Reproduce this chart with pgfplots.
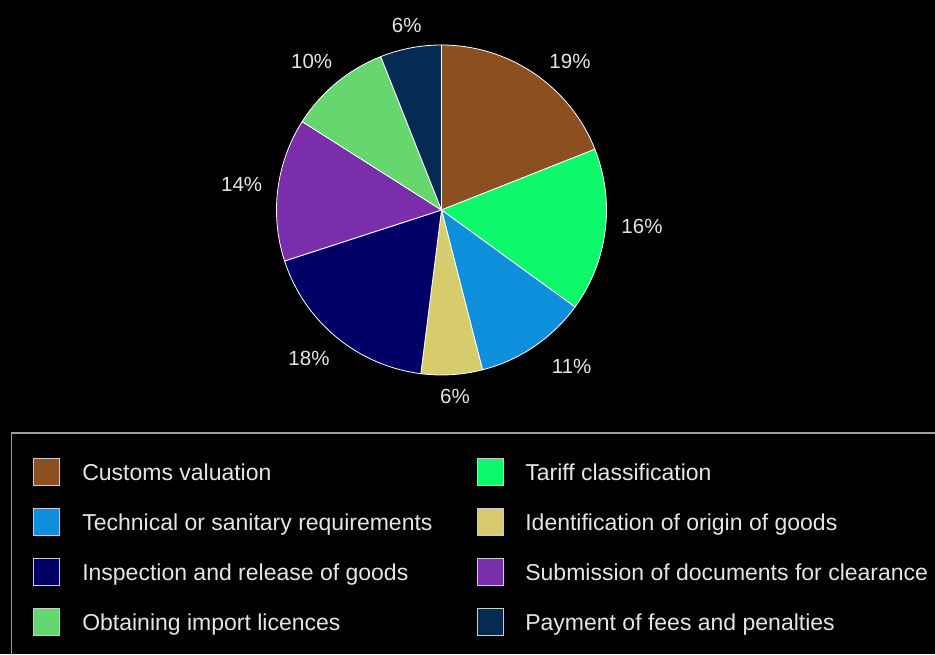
\documentclass[border=0pt]{standalone}
\usepackage{fontspec}
\setmainfont{Liberation Sans}
\usepackage{pgfplots}
\usepackage{pgfplotstable}
\pgfplotsset{compat=1.18}
\definecolor{c0}{HTML}{8C5020}
\definecolor{c1}{HTML}{0DF86A}
\definecolor{c2}{HTML}{0E8FDB}
\definecolor{c3}{HTML}{D6CC6C}
\definecolor{c4}{HTML}{000066}
\definecolor{c5}{HTML}{7A2EAA}
\definecolor{c6}{HTML}{66D66E}
\definecolor{c7}{HTML}{062B52}
\pgfplotstableread{
value lx ly
19 128.5 148.3
16 200.5 -16.5
11 130.2 -156.7
6 13.5 -186.7
18 -132.5 -148
14 -199.8 26
10 -129.8 149
6 -34.8 185
}\pietable
\newcommand\legfont{\fontsize{23}{27}\selectfont}
\newcommand\labfont{\fontsize{20.5}{24}\selectfont}
\begin{document}
\begin{tikzpicture}
\path[use as bounding box] (0,0) rectangle (935pt,654pt);
\fill[black] (0,0) rectangle (935pt,654pt);
\xdef\cum{90}
\foreach \i in {0,...,7}{%
  \pgfplotstablegetelem{\i}{value}\of\pietable
  \expandafter\xdef\csname pV\i\endcsname{\pgfplotsretval}%
  \pgfmathsetmacro\b{\cum-3.6*\pgfplotsretval}%
  \expandafter\xdef\csname pA\i\endcsname{\cum}%
  \expandafter\xdef\csname pB\i\endcsname{\b}%
  \xdef\cum{\b}%
  \pgfplotstablegetelem{\i}{lx}\of\pietable
  \expandafter\xdef\csname pX\i\endcsname{\pgfplotsretval}%
  \pgfplotstablegetelem{\i}{ly}\of\pietable
  \expandafter\xdef\csname pY\i\endcsname{\pgfplotsretval}%
}
\begin{axis}[at={(0,0)}, anchor=south west, scale only axis,
  width=935pt, height=654pt, xmin=0, xmax=935, ymin=0, ymax=654,
  hide axis, clip=true,
  legend columns=2, legend cell align=left,
  legend image code/.code={\draw[#1, draw=white!80!black, line width=0.8pt] (0pt,-5pt) rectangle (26pt,21.7pt);},
  legend style={at={(0.0358,0.2992)}, anchor=north west, draw=none, fill=none,
    inner sep=0pt, outer sep=0pt, text=white!90!black, font=\legfont,
    row sep=22.4pt,
    nodes={inner sep=0pt, text height=21.7pt, text depth=5pt, anchor=base west},
    /tikz/every odd column/.append style={column sep=22pt},
    /tikz/every even column/.append style={column sep=44pt}},
]
\draw[white!62!black, line width=1.5pt] (axis cs:11.7,221) rectangle (axis cs:1000,-50);
\pgfplotsinvokeforeach{0,...,7}{
  \filldraw[fill=c#1, draw=white, line width=0.8pt] (axis cs:441.5,444) --
    (axis cs:{441.5+165*cos(\csname pA#1\endcsname)},{444+165*sin(\csname pA#1\endcsname)})
    arc[start angle=\csname pA#1\endcsname, end angle=\csname pB#1\endcsname, radius=165pt] -- cycle;
  \node[text=white!90!black, font=\labfont] at (axis cs:{441.5+\csname pX#1\endcsname},{444+\csname pY#1\endcsname}) {\csname pV#1\endcsname\%};
}
\addlegendimage{fill=c0}\addlegendentry{Customs valuation}
\addlegendimage{fill=c1}\addlegendentry{Tariff classification}
\addlegendimage{fill=c2}\addlegendentry{Technical or sanitary requirements}
\addlegendimage{fill=c3}\addlegendentry{Identification of origin of goods}
\addlegendimage{fill=c4}\addlegendentry{Inspection and release of goods}
\addlegendimage{fill=c5}\addlegendentry{Submission of documents for clearance}
\addlegendimage{fill=c6}\addlegendentry{Obtaining import licences}
\addlegendimage{fill=c7}\addlegendentry{Payment of fees and penalties}
\end{axis}
\end{tikzpicture}
\end{document}
